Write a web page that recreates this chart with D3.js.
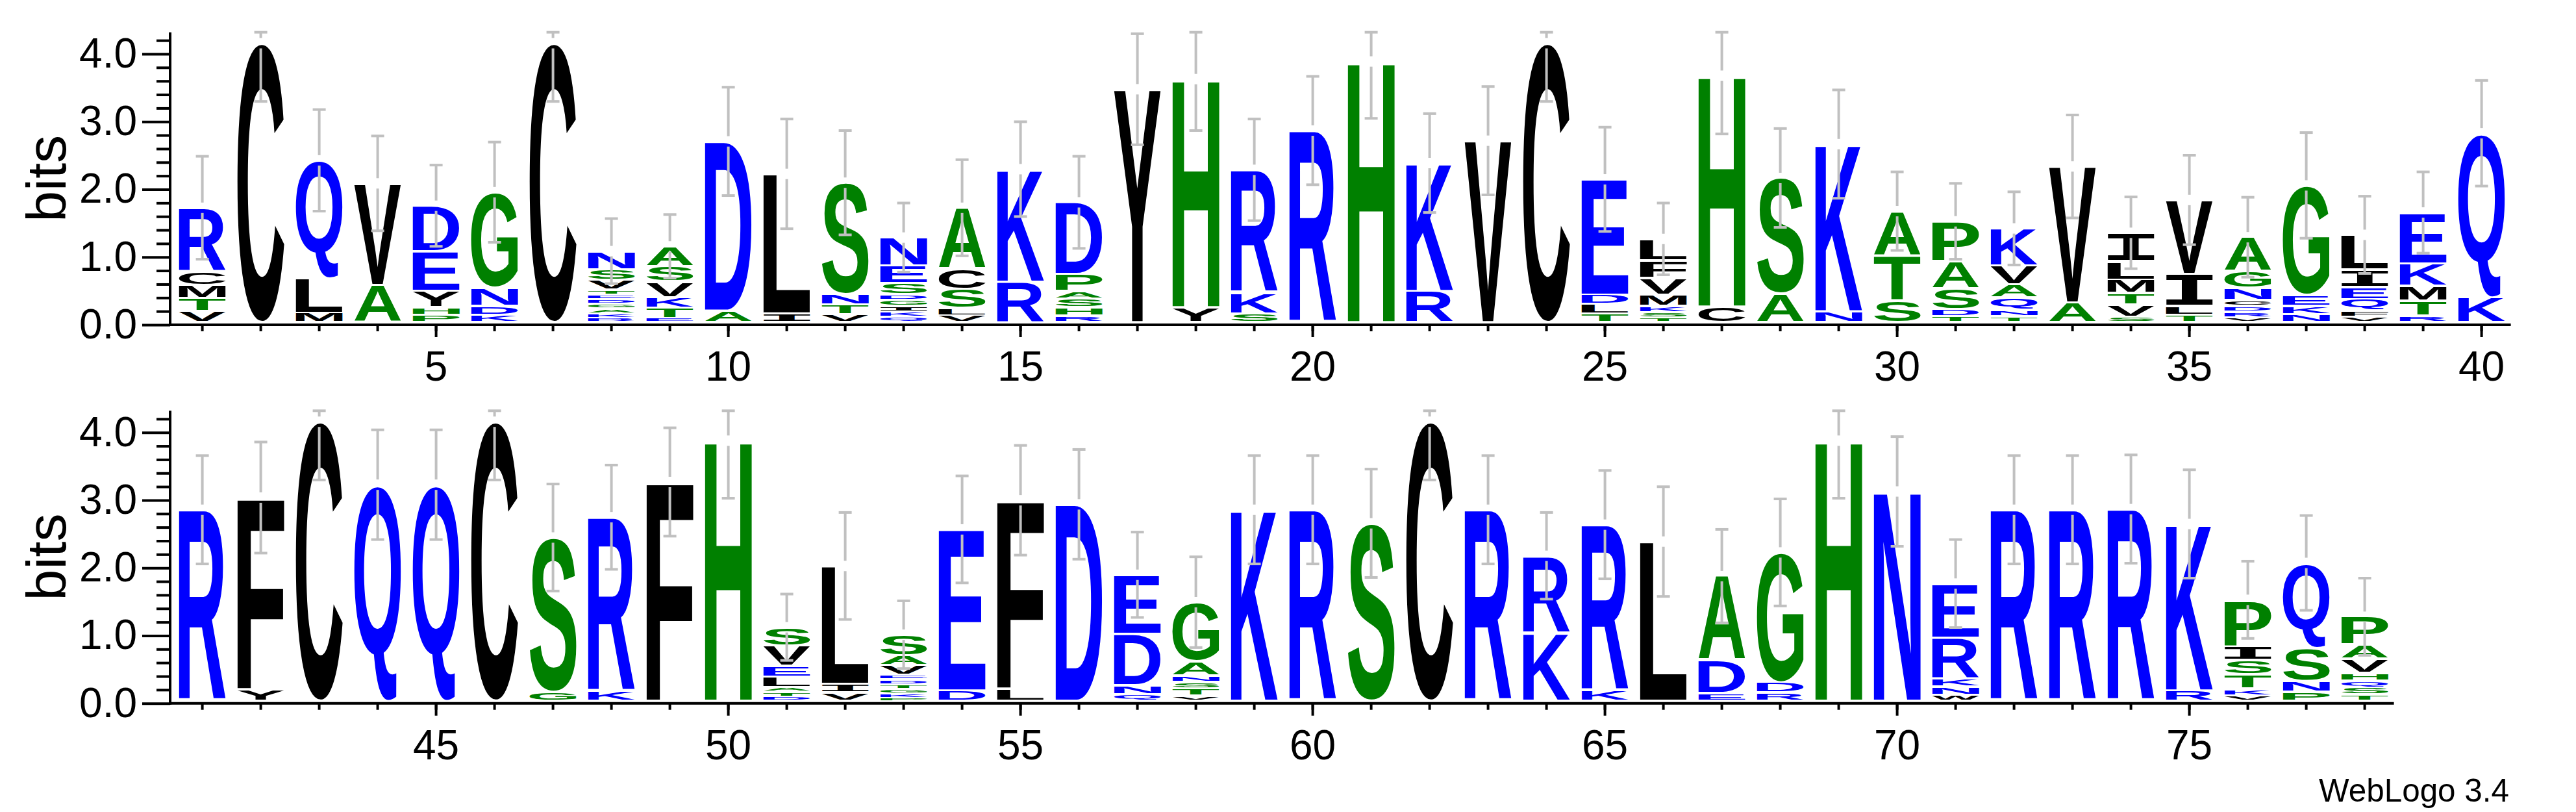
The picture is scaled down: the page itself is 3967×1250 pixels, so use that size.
<!DOCTYPE html>
<html>
<head>
<meta charset="utf-8">
<title>Sequence logo</title>
<style>
  body { margin:0; background:#fff; }
</style>
</head>
<body>
<div id="logo"></div>
<script src="https://d3js.org/d3.v7.min.js"></script>
<script type="text/javascript">

// residues at each position, listed from the top of the stack down
var letters = [
  "RCMTV","C","QLM","VA","DEYHP","GNDK","C","NSVTEDGAKR","ASVKTE","DA",
  "LI","SNTV","NESDGIKQ","ACSLV","KR","DPASHR","Y","HY","RKS","R",
  "H","KR","V","C","EDLT","LFVMKST","HC","SA","KN","ATS",
  "PASDT","KVAQNT","VA","ILMTVS","VILT","AGNCDRV","GEKN","LIEQFV","EKMTR","QK",
  "R","FY","C","Q","Q","C","SG","RK","F","H",
  "SVELATD","LIV","SAVEDTGKP","ED","FL","D","EDNQ","GANSTV","K","R",
  "S","C","R","RK","RK","L","ADE","GDR","H","N",
  "ERKNW","R","R","R","KR","PISTKV","QSNP","PAVHQST"
];

// heights in bits, same order as the letters
var heights = [
  [.94,.20,.19,.19,.17],[4.12],[1.74,.51,.14],[1.50,.55],[.67,.59,.24,.11,.11],
  [1.41,.27,.13,.11],[4.12],[.27,.16,.14,.07,.07,.07,.07,.07,.07,.06],[.29,.23,.23,.16,.15,.06],[2.50,.17],
  [2.06,.13],[1.65,.15,.14,.12],[.41,.26,.17,.08,.09,.08,.085,.075],[.90,.30,.28,.11,.10],[1.66,.60],
  [1.06,.25,.11,.13,.12,.10],[3.44],[3.37,.22],[1.81,.31,.13],[2.83],
  [3.85],[1.89,.46],[2.68],[4.12],[1.70,.14,.14,.13],
  [.32,.26,.24,.17,.09,.08,.07],[3.41,.23],[1.71,.42],[2.47,.16],[.65,.67,.32],
  [.59,.40,.31,.10,.09],[.55,.28,.19,.18,.10,.085],[2.01,.29],[.42,.27,.20,.17,.18,.08],[1.09,.47,.135,.11],
  [.50,.25,.18,.085,.085,.085,.07],[1.62,.16,.12,.12],[.51,.26,.18,.17,.09,.08],[.75,.33,.22,.22,.10],[2.42,.37],
  [2.82],[2.83,.17],[4.12],[3.19],[3.19],
  [4.12],[2.28,.13],[2.57,.14],[3.23],[3.84],
  [.27,.30,.16,.15,.07,.075,.06],[1.74,.13,.12],[.31,.14,.14,.07,.075,.065,.07,.065,.04],[2.38,.15],[2.78,.18],
  [2.90],[.87,.76,.13,.10],[.87,.21,.10,.09,.11,.075],[2.82],[2.82],
  [2.62],[4.12],[2.82],[1.14,1.00],[2.45,.15],
  [2.35],[1.24,.49,.11],[1.92,.15,.12],[3.84],[3.09],
  [.80,.60,.12,.12,.09],[2.82],[2.82],[2.83],[2.46,.15],
  [.68,.21,.21,.21,.10,.08],[1.25,.49,.16,.135],[.41,.21,.21,.11,.10,.11,.09]
];

// half length of each error bar, bits
var errHalf = [
  .76,.86,.75,.70,.60,.74,.86,.48,.47,.80,
  .81,.77,.51,.71,.70,.68,.82,.76,.75,.80,
  .84,.73,.80,.86,.77,.53,.86,.73,.80,.58,
  .56,.54,.76,.53,.66,.59,.78,.57,.60,.78,
  .80,.82,.86,.81,.81,.86,.79,.77,.80,.85,
  .49,.79,.50,.79,.81,.81,.63,.67,.80,.80,
  .80,.86,.80,.64,.80,.81,.69,.79,.85,.81,
  .65,.80,.80,.80,.80,.57,.70,.57
];

var rows = [
  {first: 1, last: 40, base: 500},
  {first: 41, last: 78, base: 1082.7}
];
var xTickLabels = [5,10,15,20,25,30,35,40,45,50,55,60,65,70,75];
var yTickLabels = [0,1,2,3,4];

var maxBits = 4.32, pxPerBit = 104.25,
    left = 266.6, colW = 90, glyphW = 72, axisX = 262;

var blue = "#0000ff", green = "#008000", black = "#000000";
var colorOf = {};
"RKDENQ".split("").forEach(function(c){ colorOf[c] = blue; });
"SGHTAP".split("").forEach(function(c){ colorOf[c] = green; });
"YVMCLFIW".split("").forEach(function(c){ colorOf[c] = black; });

var fontFor = function(c){ return c == "I" ? "DejaVu Sans Mono" : "Liberation Sans"; };

// tight glyph bounds, so every letter can be stretched to fill its box
var ctx = document.createElement("canvas").getContext("2d");
var bounds = {};
function glyphBox(c){
  if(!bounds[c]){
    ctx.font = "bold 200px '" + fontFor(c) + "'";
    var m = ctx.measureText(c);
    bounds[c] = {l: -m.actualBoundingBoxLeft, r: m.actualBoundingBoxRight,
                 t: -m.actualBoundingBoxAscent, b: m.actualBoundingBoxDescent};
  }
  return bounds[c];
}

var svg = d3.select("#logo").append("svg")
  .attr("width", 3967).attr("height", 1250)
  .style("background", "#fff");

rows.forEach(function(row){
  var positions = d3.range(row.first, row.last + 1);
  var x = d3.scaleBand().domain(positions).range([left, left + colW * positions.length]);
  var y = d3.scaleLinear().domain([0, maxBits]).range([row.base, row.base - maxBits * pxPerBit]);
  var g = svg.append("g");

  // stacks
  positions.forEach(function(p){
    var i = p - 1, ls = letters[i].split(""), hs = heights[i];
    var total = d3.sum(hs);
    var cx = x(p) + x.bandwidth() / 2;
    var top = y(total) - 4;
    var acc = total;
    ls.forEach(function(c, k){
      var yTop = y(acc) - 4, yBot = y(acc - hs[k]) - 4;
      acc -= hs[k];
      var h = yBot - yTop;
      var gh = h > 7 ? h - 3.5 : h * 0.5;
      var b = glyphBox(c);
      var sx = glyphW / (b.r - b.l), sy = gh / (b.b - b.t);
      g.append("text")
        .attr("x", 0).attr("y", 0)
        .attr("font-family", fontFor(c))
        .attr("font-weight", "bold")
        .attr("font-size", 200)
        .attr("fill", colorOf[c])
        .attr("transform", "translate(" + (cx - glyphW / 2) + "," + (yTop + (h - gh) / 2) + ") scale(" + sx + "," + sy + ") translate(" + (-b.l) + "," + (-b.t) + ")")
        .text(c);
    });

    // error bar, centred on the stack top with a small gap
    var half = errHalf[i] * pxPerBit, gap = 8;
    var upper = Math.max(y(maxBits), top - half), lower = Math.min(row.base - 4, top + half);
    var eb = g.append("g").attr("stroke", "#c0c0c0").attr("stroke-width", 4);
    eb.append("line").attr("x1", cx).attr("x2", cx).attr("y1", upper).attr("y2", top - gap);
    eb.append("line").attr("x1", cx).attr("x2", cx).attr("y1", top + gap).attr("y2", lower);
    eb.append("line").attr("x1", cx - 10).attr("x2", cx + 10).attr("y1", upper).attr("y2", upper);
    eb.append("line").attr("x1", cx - 10).attr("x2", cx + 10).attr("y1", lower).attr("y2", lower);
  });

  // y axis
  var yMinor = d3.range(1, 22).filter(function(k){ return k % 5 != 0; }).map(function(k){ return k / 5; });
  var yMin = g.append("g").attr("transform", "translate(" + axisX + ",0)")
    .call(d3.axisLeft(y).tickValues(yMinor).tickSize(21).tickFormat(""));
  var yMaj = g.append("g").attr("transform", "translate(" + axisX + ",0)")
    .call(d3.axisLeft(y).tickValues(yTickLabels).tickSize(43).tickPadding(8).tickFormat(d3.format(".1f")));

  // x axis
  var xMin = g.append("g").attr("transform", "translate(0," + row.base + ")")
    .call(d3.axisBottom(x).tickValues(positions).tickSize(10).tickFormat(""));
  var xMaj = g.append("g").attr("transform", "translate(0," + row.base + ")")
    .call(d3.axisBottom(x).tickValues(xTickLabels.filter(function(v){ return v >= row.first && v <= row.last; }))
      .tickSize(19).tickPadding(22));

  [yMin, yMaj, xMin, xMaj].forEach(function(a){
    a.select(".domain").remove();
    a.attr("font-size", 64).attr("font-family", "'Liberation Sans', Arial, sans-serif");
    a.selectAll(".tick line").attr("stroke", "#000").attr("stroke-width", 4);
    a.selectAll(".tick text").attr("fill", "#000");
  });

  g.append("line").attr("stroke", "#000").attr("stroke-width", 4)
    .attr("x1", axisX - 2).attr("x2", x.range()[1]).attr("y1", row.base).attr("y2", row.base);
  g.append("line").attr("stroke", "#000").attr("stroke-width", 4)
    .attr("x1", axisX).attr("x2", axisX).attr("y1", row.base + 2).attr("y2", y(maxBits));

  g.append("text")
    .attr("transform", "translate(101," + (row.base - maxBits * pxPerBit / 2) + ") rotate(-90)")
    .attr("text-anchor", "middle")
    .attr("font-family", "'Liberation Sans', Arial, sans-serif")
    .attr("font-size", 86)
    .text("bits");
});

svg.append("text")
  .attr("x", 3864).attr("y", 1234)
  .attr("text-anchor", "end")
  .attr("font-family", "'Liberation Sans', Arial, sans-serif")
  .attr("font-size", 50)
  .attr("textLength", 293)
  .attr("lengthAdjust", "spacingAndGlyphs")
  .text("WebLogo 3.4");

</script>
</body>
</html>
